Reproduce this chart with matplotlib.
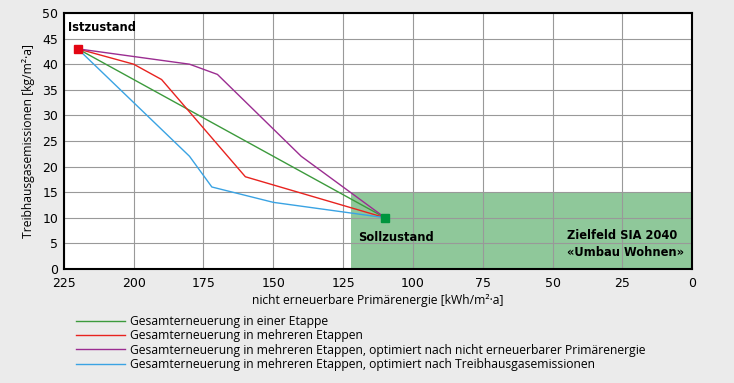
import numpy as np
import matplotlib.pyplot as plt
from matplotlib.patches import Rectangle

## Daten
labels = ['Gesamterneuerung in einer Etappe',
          'Gesamterneuerung in mehreren Etappen',
          'Gesamterneuerung in mehreren Etappen, optimiert nach nicht erneuerbarer Primärenergie',
          'Gesamterneuerung in mehreren Etappen, optimiert nach Treibhausgasemissionen']
colors = ['#3c9a3c', '#e8231f', '#9b2d91', '#3aa3e3']

pe_einer = [220, 110]
thg_einer = [43, 10]
pe_mehrere = [220, 200, 190, 160, 110]
thg_mehrere = [43, 40, 37, 18, 10]
pe_opt_pe = [220, 180, 170, 140, 110]
thg_opt_pe = [43, 40, 38, 22, 10]
pe_opt_thg = [220, 180, 172, 150, 110]
thg_opt_thg = [43, 22, 16, 13, 10]

ist = (220, 43)
soll = (110, 10)
ziel_pe = 122
ziel_thg = 15

## Plot
plt.rcParams['font.family'] = 'DejaVu Sans'
lab_font = ['Open Sans', 'DejaVu Sans']
fig = plt.figure(figsize=(7.34, 3.83), dpi=100, facecolor='#ebebeb')
ax = fig.add_axes([0.087, 0.298, 0.856, 0.668])
ax.set_facecolor('white')

ax.add_patch(Rectangle((0, 0), ziel_pe, ziel_thg, facecolor='#8fc89a', edgecolor='none', zorder=1))

series = [(pe_einer, thg_einer), (pe_mehrere, thg_mehrere), (pe_opt_pe, thg_opt_pe), (pe_opt_thg, thg_opt_thg)]
for (x, y), c, l in zip(series, colors, labels):
    ax.plot(x, y, color=c, lw=1.0, label=l, zorder=3)

ax.plot(*ist, 's', color='#e30613', ms=6, zorder=4)
ax.plot(*soll, 's', color='#00953e', ms=6, zorder=4)

ax.text(223.5, 47.2, 'Istzustand', fontsize=8.3, fontweight='bold', va='center', ha='left', zorder=5)
ax.text(119.5, 6.2, 'Sollzustand', fontsize=8.3, fontweight='bold', va='center', ha='left', zorder=5)
ax.text(3, 4.9, 'Zielfeld SIA 2040\n«Umbau Wohnen»', fontsize=8.3, fontweight='bold',
        va='center', ha='right', multialignment='left', linespacing=1.35, zorder=5)

ax.set_xlim(225, 0)
ax.set_ylim(0, 50)
ax.set_xticks(np.arange(225, -1, -25))
ax.set_yticks(np.arange(0, 51, 5))
ax.grid(True, color='#999999', lw=0.8, zorder=2)
ax.set_axisbelow(False)
for s in ax.spines.values():
    s.set_linewidth(1.5)
    s.set_zorder(6)
ax.tick_params(length=0, labelsize=9)
ax.tick_params(axis='x', pad=6)
ax.tick_params(axis='y', pad=4)
ax.set_xlabel('nicht erneuerbare Primärenergie [kWh/m²·a]', fontsize=8.7, labelpad=3, family=lab_font)
ax.set_ylabel('Treibhausgasemissionen [kg/m²·a]', fontsize=8.7, labelpad=5, family=lab_font)

fig.legend(loc='upper left', bbox_to_anchor=(0.104, 0.178), frameon=False,
           prop={'family': lab_font, 'size': 8.7},
           handlelength=4.0, handletextpad=0.45, labelspacing=0.12, borderaxespad=0, borderpad=0)

plt.savefig('out.png', dpi=100, facecolor=fig.get_facecolor())
